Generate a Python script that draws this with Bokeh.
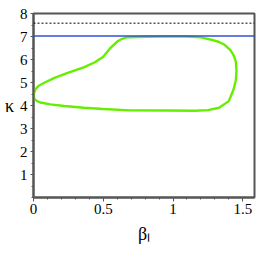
from bokeh.plotting import figure
from bokeh.models import FixedTicker, Range1d, Span
from bokeh.embed import file_html
from bokeh.resources import INLINE

# closed curve (beta_l, kappa)
beta = [0.0, 0.005, 0.014, 0.035, 0.074, 0.15, 0.24, 0.36, 0.44, 0.50, 0.55, 0.60,
        0.635, 0.67, 0.80, 0.95, 1.10, 1.20, 1.275, 1.33, 1.37, 1.41, 1.435, 1.45,
        1.455, 1.45, 1.435, 1.40, 1.33, 1.25, 1.16, 0.95, 0.69, 0.50, 0.36, 0.22,
        0.12, 0.05, 0.026, 0.008, 0.0]
kappa = [4.41, 4.56, 4.70, 4.85, 4.98, 5.20, 5.41, 5.66, 5.88, 6.12, 6.49, 6.78,
         6.90, 6.96, 6.99, 7.00, 7.00, 6.96, 6.86, 6.76, 6.64, 6.42, 6.18, 5.92,
         5.49, 5.10, 4.72, 4.19, 3.90, 3.80, 3.77, 3.78, 3.79, 3.85, 3.90, 3.98,
         4.05, 4.13, 4.19, 4.28, 4.41]
blue_level = 7.02
dotted_level = 7.58
x_ticks = [0, 0.5, 1, 1.5]
y_ticks = [1, 2, 3, 4, 5, 6, 7, 8]

p = figure(width=258, height=258, output_backend="svg", toolbar_location=None,
           x_range=Range1d(0, 1.584), y_range=Range1d(0, 8),
           min_border_left=33, min_border_right=4, min_border_top=13, min_border_bottom=61)
p.grid.visible = False
p.background_fill_color = "white"
p.border_fill_color = "white"
p.outline_line_color = "#555555"
p.outline_line_width = 2

p.line(beta, kappa, line_color="#66ee00", line_width=2.4)
p.add_layout(Span(location=blue_level, dimension="width", line_color="#2f4fd8", line_width=1.5))
p.add_layout(Span(location=dotted_level, dimension="width", line_color="black", line_width=1,
                  line_dash="2 2"))

serif = "Liberation Serif"
for ax in (p.xaxis[0], p.yaxis[0]):
    ax.axis_line_color = "#555555"
    ax.axis_line_width = 2
    ax.major_tick_line_color = "#555555"
    ax.minor_tick_line_color = "#555555"
    ax.major_label_text_font = serif
    ax.major_label_text_font_size = "15px"
    ax.major_label_text_color = "black"
    ax.major_tick_in = 0
    ax.minor_tick_in = 0
    ax.axis_label_text_font = serif
    ax.axis_label_text_font_size = "18px"
    ax.axis_label_text_font_style = "normal"
    ax.axis_label_text_color = "black"

p.xaxis.ticker = FixedTicker(ticks=x_ticks, minor_ticks=[i / 10 for i in range(16)])
p.yaxis.ticker = FixedTicker(ticks=y_ticks, minor_ticks=[i / 2 for i in range(16)])
p.xaxis.major_tick_out = 4
p.xaxis.minor_tick_out = 2
p.yaxis.major_tick_out = 3
p.yaxis.minor_tick_out = 2
p.xaxis.major_label_standoff = 2
p.yaxis.major_label_standoff = 3

p.yaxis.axis_label = "κ"
p.yaxis.axis_label_orientation = "horizontal"
p.yaxis.axis_label_standoff = 3
p.xaxis.axis_label = "βₗ"
p.xaxis.axis_label_standoff = 7

open("out.html", "w").write(file_html(p, INLINE))
